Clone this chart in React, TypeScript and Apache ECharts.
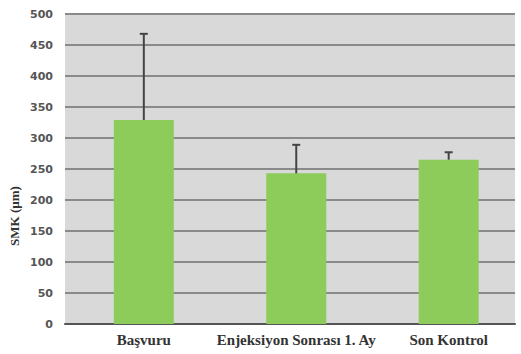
import React, { useEffect, useRef } from "react";
import * as echarts from "echarts";

const categories = ["Başvuru", "Enjeksiyon Sonrası 1. Ay", "Son Kontrol"];
const means = [329, 243, 265];
const upperErrors = [468, 289, 277];
const yTicks = [0, 50, 100, 150, 200, 250, 300, 350, 400, 450, 500];

export default function App() {
  const ref = useRef<HTMLDivElement>(null);
  useEffect(() => {
    document.body.style.margin = "0";
    const chart = echarts.init(ref.current!, undefined, { renderer: "svg" });
    chart.setOption({
      animation: false,
      backgroundColor: "#ffffff",
      grid: {
        left: 65,
        right: 6,
        top: 14,
        bottom: 30,
        show: true,
        backgroundColor: "#d9d9d9",
        borderWidth: 0,
      },
      xAxis: {
        type: "value",
        min: -0.517,
        max: 2.435,
        splitLine: { show: false },
        axisLine: { show: true, onZero: false, lineStyle: { color: "#555555", width: 2 } },
        axisTick: { show: false },
        axisLabel: {
          customValues: [0, 1, 2],
          formatter: (v: number) => categories[Math.round(v)] ?? "",
          color: "#333333",
          fontFamily: "Liberation Serif",
          fontWeight: "bold",
          fontSize: 15,
          margin: 8,
        },
      },
      yAxis: {
        type: "value",
        min: yTicks[0],
        max: yTicks[yTicks.length - 1],
        interval: 50,
        axisLine: { show: false },
        axisTick: { show: false },
        splitLine: { lineStyle: { color: "#8a8a8a", width: 2 } },
        axisLabel: {
          color: "#555555",
          fontFamily: "DejaVu Sans",
          fontWeight: "bold",
          fontSize: 11,
          margin: 12,
        },
      },
      graphic: [
        {
          type: "text",
          x: 14,
          y: 216,
          rotation: Math.PI / 2,
          style: {
            text: "SMK (µm)",
            fontFamily: "Liberation Serif",
            fontWeight: "bold",
            fontSize: 13,
            fill: "#333333",
            align: "center",
            verticalAlign: "middle",
          },
        },
      ],
      series: [
        {
          type: "bar",
          data: means.map((m, i) => [i, m]),
          barWidth: 60,
          itemStyle: { color: "#8dcb5a" },
        },
        {
          type: "custom",
          data: means.map((m, i) => [i, m, upperErrors[i]]),
          z: 10,
          renderItem: (params: any, api: any) => {
            const x = api.value(0);
            const low = api.coord([x, api.value(1)]);
            const high = api.coord([x, api.value(2)]);
            return {
              type: "group",
              children: [
                {
                  type: "line",
                  shape: { x1: low[0], y1: low[1], x2: high[0], y2: high[1] },
                  style: { stroke: "#444444", lineWidth: 2 },
                },
                {
                  type: "line",
                  shape: { x1: high[0] - 4, y1: high[1], x2: high[0] + 4, y2: high[1] },
                  style: { stroke: "#444444", lineWidth: 2 },
                },
              ],
            };
          },
        },
      ],
    });
    return () => chart.dispose();
  }, []);
  return <div ref={ref} style={{ width: 521, height: 354 }} />;
}
